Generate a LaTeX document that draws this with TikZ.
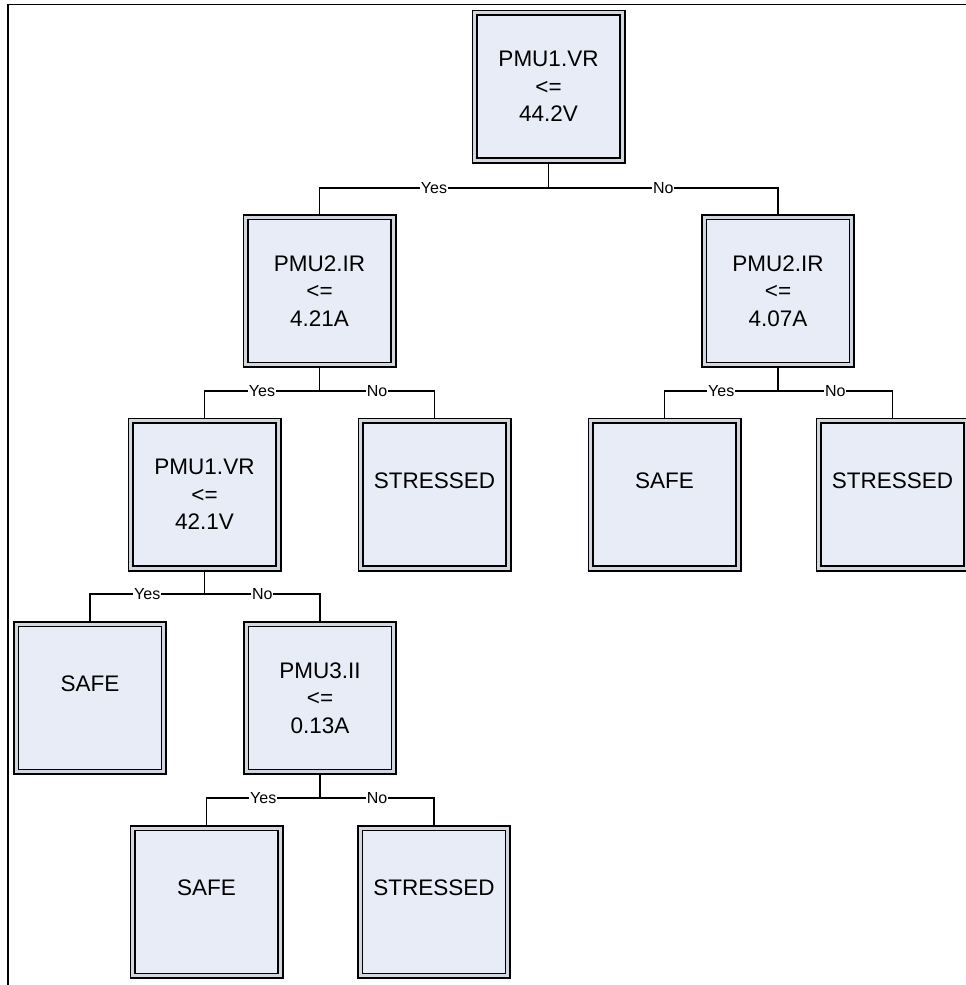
\documentclass[tikz,border=0pt]{standalone}
\usepackage{fontspec}
\setmainfont{Liberation Sans}
\definecolor{boxfill}{RGB}{232,236,246}
\definecolor{gapcol}{RGB}{210,214,224}
\newcommand\leaftext[1]{\raisebox{14pt}[\height][\depth]{#1}}
\tikzset{
  treebox/.style={draw=black, line width=1.6pt, double=gapcol, double distance=3pt,
    fill=boxfill, minimum width=147.8pt, minimum height=147.8pt, inner sep=0pt,
    outer sep=3.1pt, align=center, font=\fontsize{22.5}{27.5}\selectfont},
  lbl/.style={fill=white, inner xsep=1pt, inner ysep=0.5pt, font=\fontsize{16}{18}\selectfont},
  conn/.style={line width=1.6pt},
  frameline/.style={line width=1.8pt}
}
\begin{document}
\begin{tikzpicture}[x=1pt,y=-1pt]
\useasboundingbox (0,0) rectangle (966,985);
\draw[frameline] (8,985) -- (8,4.5) -- (966,4.5);

\node[treebox] (root) at (548.5,86.5) {PMU1.VR\\<=\\44.2V};
\node[treebox] (L)  at (319.5,291) {PMU2.IR\\<=\\4.21A};
\node[treebox] (R)  at (778,291) {PMU2.IR\\<=\\4.07A};
\node[treebox] (LL) at (204.5,494.5) {PMU1.VR\\<=\\42.1V};
\node[treebox] (LR) at (434.5,494.5) {\leaftext{STRESSED}};
\node[treebox] (RL) at (664.5,494.5) {\leaftext{SAFE}};
\node[treebox] (RR) at (892.5,494.5) {\leaftext{STRESSED}};
\node[treebox] (LLL) at (90,698) {\leaftext{SAFE}};
\node[treebox] (LLR) at (320,698) {PMU3.II\\<=\\0.13A};
\node[treebox] (B1) at (206.5,902) {\leaftext{SAFE}};
\node[treebox] (B2) at (434,902) {\leaftext{STRESSED}};

\coordinate (j0) at (root.south |- 0,188);
\coordinate (j1) at (L.south |- 0,391);
\coordinate (j2) at (R.south |- 0,391);
\coordinate (j3) at (LL.south |- 0,594);
\coordinate (j4) at (LLR.south |- 0,798);

\draw[conn] (root.south) -- (j0);
\draw[conn] (j0) -| node[lbl,pos=0.25]{Yes} (L.north);
\draw[conn] (j0) -| node[lbl,pos=0.25]{No} (R.north);

\draw[conn] (L.south) -- (j1);
\draw[conn] (j1) -| node[lbl,pos=0.25]{Yes} (LL.north);
\draw[conn] (j1) -| node[lbl,pos=0.25]{No} (LR.north);

\draw[conn] (R.south) -- (j2);
\draw[conn] (j2) -| node[lbl,pos=0.25]{Yes} (RL.north);
\draw[conn] (j2) -| node[lbl,pos=0.25]{No} (RR.north);

\draw[conn] (LL.south) -- (j3);
\draw[conn] (j3) -| node[lbl,pos=0.25]{Yes} (LLL.north);
\draw[conn] (j3) -| node[lbl,pos=0.25]{No} (LLR.north);

\draw[conn] (LLR.south) -- (j4);
\draw[conn] (j4) -| node[lbl,pos=0.25]{Yes} (B1.north);
\draw[conn] (j4) -| node[lbl,pos=0.25]{No} (B2.north);
\end{tikzpicture}
\end{document}
